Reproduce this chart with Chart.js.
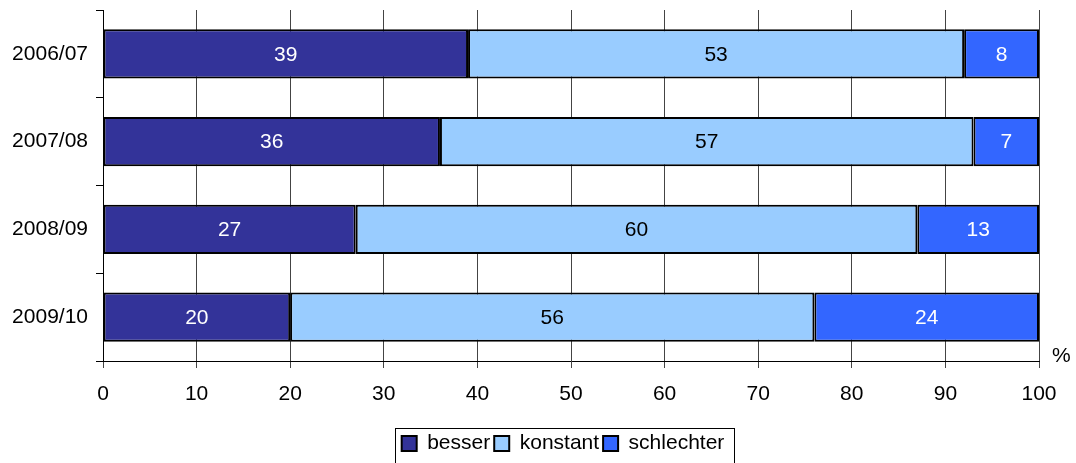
<!DOCTYPE html>
<html>
<head>
<meta charset="utf-8">
<script src="https://cdn.jsdelivr.net/npm/chart.js@4"></script>
<style>
  html, body { margin: 0; padding: 0; background: #fff; }
  #wrap { width: 1076px; height: 463px; }
</style>
</head>
<body>
<div id="wrap"><canvas id="myChart" width="1076" height="463"></canvas></div>
<script>
const years = ['2006/07', '2007/08', '2008/09', '2009/10'];
const besser = [39, 36, 27, 20];
const konstant = [53, 57, 60, 56];
const schlechter = [8, 7, 13, 24];
const xTicks = [0, 10, 20, 30, 40, 50, 60, 70, 80, 90, 100];

const FONT = 'Liberation Sans, Arial, sans-serif';
const LEGEND_SHIFT = -8;

// writes the value into the middle of every segment
const segmentLabels = {
    id: 'segmentLabels',
    afterDatasetsDraw(chart) {
        const ctx = chart.ctx;
        ctx.save();
        ctx.font = '21px ' + FONT;
        ctx.textAlign = 'center';
        ctx.textBaseline = 'middle';
        chart.data.datasets.forEach((ds, i) => {
            const meta = chart.getDatasetMeta(i);
            meta.data.forEach((bar, j) => {
                ctx.fillStyle = ds.labelColor;
                ctx.fillText(String(ds.data[j]), (bar.x + bar.base) / 2, bar.y + 1);
            });
        });
        ctx.restore();
    }
};

// "%" unit next to the end of the x axis, plus a frame round the legend
const extras = {
    id: 'extras',
    afterLayout(chart) {
        // legend sits a little left of the plot centre
        const lg = chart.legend;
        lg.left += LEGEND_SHIFT;
        lg.right += LEGEND_SHIFT;
        lg.legendHitBoxes.forEach(b => { b.left += LEGEND_SHIFT; });
    },
    afterDraw(chart) {
        const ctx = chart.ctx;
        const x = chart.scales.x;
        ctx.save();
        ctx.font = '21px ' + FONT;
        ctx.fillStyle = '#000';
        ctx.textAlign = 'left';
        ctx.textBaseline = 'middle';
        ctx.fillText('%', x.right + 13, x.top - 5);

        const boxes = chart.legend.legendHitBoxes;
        if (boxes && boxes.length) {
            const l = Math.min(...boxes.map(b => b.left)) - 7;
            const r = Math.max(...boxes.map(b => b.left + b.width)) + 9;
            const t = Math.min(...boxes.map(b => b.top)) - 5;
            const b = Math.max(...boxes.map(b => b.top + b.height)) + 30;
            ctx.strokeStyle = '#000';
            ctx.lineWidth = 1;
            ctx.strokeRect(Math.round(l) + 0.5, Math.round(t) + 0.5, Math.round(r - l), Math.round(b - t));
        }
        ctx.restore();
    }
};

const myCanvas = document.getElementById('myChart').getContext('2d');

const myChart = new Chart(myCanvas, {
    type: 'bar',
    data: {
        labels: years,
        datasets: [{
            label: 'besser',
            data: besser,
            backgroundColor: '#333399',
            labelColor: '#ffffff',
        }, {
            label: 'konstant',
            data: konstant,
            backgroundColor: '#99CCFF',
            labelColor: '#000000',
        }, {
            label: 'schlechter',
            data: schlechter,
            backgroundColor: '#3366FF',
            labelColor: '#ffffff',
        }],
    },
    options: {
        indexAxis: 'y',
        responsive: false,
        animation: false,
        layout: {
            padding: { left: 0, right: 37, top: 10, bottom: -1 }
        },
        datasets: {
            bar: {
                borderColor: '#000',
                borderWidth: 2,
                borderSkipped: false,
                barPercentage: 0.56,
                categoryPercentage: 1,
            }
        },
        scales: {
            x: {
                stacked: true,
                min: 0,
                max: 100,
                afterBuildTicks(scale) {
                    scale.ticks = xTicks.map(v => ({ value: v }));
                },
                afterFit(scale) {
                    scale.height = 68;
                },
                grid: {
                    color: '#444',
                    lineWidth: 1,
                    tickLength: 7,
                },
                border: { color: '#000', width: 1 },
                ticks: {
                    color: '#000',
                    padding: 14,
                    maxRotation: 0,
                    font: { size: 21, family: FONT },
                },
            },
            y: {
                stacked: true,
                afterFit(scale) {
                    scale.width = 103;
                    scale.paddingTop = 0;
                    scale.paddingBottom = 0;
                },
                grid: {
                    offset: true,
                    drawOnChartArea: false,
                    color: '#000',
                    tickLength: 7,
                },
                border: { color: '#000', width: 1 },
                ticks: {
                    color: '#000',
                    padding: 8,
                    font: { size: 21, family: FONT },
                },
            },
        },
        plugins: {
            tooltip: { enabled: false },
            legend: {
                position: 'bottom',
                fullSize: false,
                labels: {
                    color: '#000',
                    boxWidth: 15,
                    boxHeight: 15,
                    padding: 4,
                    useBorderRadius: false,
                    font: { size: 21, family: FONT },
                }
            }
        }
    },
    plugins: [segmentLabels, extras]
});
</script>
</body>
</html>
